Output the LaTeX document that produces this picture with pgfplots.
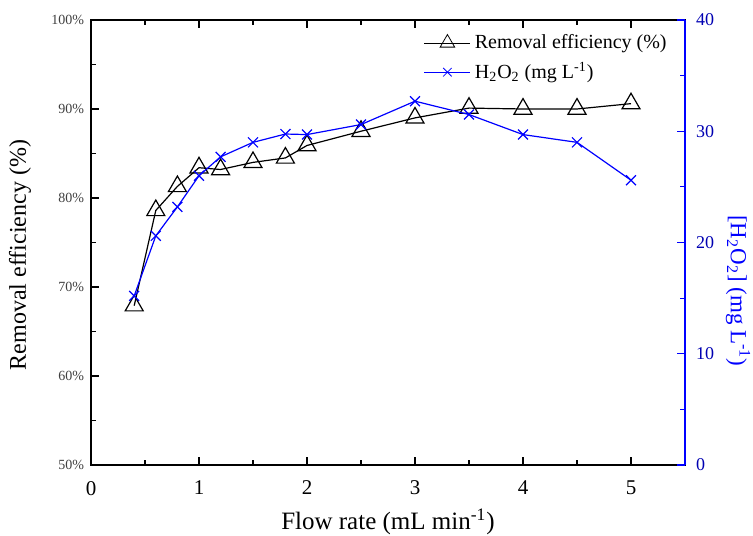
\documentclass[border=0pt]{standalone}
\usepackage{pgfplots}
\pgfplotsset{compat=1.18}
\usepackage{fontspec}
\setmainfont{Liberation Serif}
\definecolor{hblue}{HTML}{0000FF}
\definecolor{tickgray}{HTML}{404040}

\begin{document}
\begin{tikzpicture}
\begin{axis}[
  name=ax,
  scale only axis,
  width=297pt, height=222.5pt,
  xmin=0, xmax=5.5, ymin=50, ymax=100,
  xtick={0,1,...,5}, minor x tick num=1,
  ytick={50,60,...,100}, minor y tick num=1,
  ytick pos=left, xtick pos=both,
  tick align=inside,
  major tick length=4pt, minor tick length=2.5pt,
  yticklabel={\pgfmathprintnumber{\tick}\%},
  yticklabel style={font=\fontsize{7}{8}\selectfont, text=tickgray},
  xticklabel style={font=\fontsize{10.5}{12}\selectfont, yshift=-4.5pt},
  /pgf/number format/assume math mode=true,
  xlabel={Flow rate (mL min\textsuperscript{-1})},
  xlabel style={font=\fontsize{12.5}{14}\selectfont,
    at={(axis description cs:0.5,-0.128)}, anchor=center},
  ylabel={Removal efficiency (\%)},
  ylabel style={font=\fontsize{12}{14}\selectfont,
    at={(axis description cs:-0.1195,0.472)}, anchor=center},
  axis line style={line width=0.8pt},
  every tick/.style={black, line width=0.6pt},
  legend style={at={(axis description cs:1,1)}, anchor=north east,
    xshift=-4pt, yshift=-3pt, draw=none, fill=none,
    font=\fontsize{10}{12}\selectfont, row sep=1.5pt},
  legend cell align=left,
  legend image code/.code={%
    \draw[mark repeat=2, mark phase=2, #1]
      plot coordinates {(0pt,0pt) (11.5pt,0pt) (23pt,0pt)};},
]
\addlegendimage{black, mark=triangle, mark size=4.2pt}
\addlegendentry{Removal efficiency (\%)}
\addlegendimage{hblue, mark=x, mark size=3pt}
\addlegendentry{H\textsubscript{2}O\textsubscript{2} (mg L\textsuperscript{-1})}
\addplot[black, line width=0.6pt, mark=triangle, mark size=5.2pt,
  mark options={solid, line width=0.6pt}] coordinates {
  (0.4, 67.9)
  (0.6, 78.6)
  (0.8, 81.3)
  (1.0, 83.4)
  (1.2, 83.2)
  (1.5, 84.0)
  (1.8, 84.5)
  (2.0, 85.9)
  (2.5, 87.5)
  (3.0, 89.0)
  (3.5, 90.1)
  (4.0, 90.0)
  (4.5, 90.0)
  (5.0, 90.6)
};
\end{axis}
\begin{axis}[
  scale only axis,
  width=297pt, height=222.5pt,
  xmin=0, xmax=5.5, ymin=0, ymax=40,
  axis x line=none,
  axis y line*=right,
  ytick={0,10,...,40}, minor y tick num=1,
  tick align=inside,
  major tick length=4pt, minor tick length=2.5pt,
  axis line style={hblue, line width=0.8pt},
  every tick/.style={hblue, line width=0.6pt},
  yticklabel style={font=\fontsize{9}{11}\selectfont, text=hblue!70!black, xshift=2pt},
  /pgf/number format/assume math mode=true,
  ylabel={[H\textsubscript{2}O\textsubscript{2}] (mg L\textsuperscript{-1})},
  ylabel style={font=\fontsize{11.5}{13}\selectfont, text=hblue,
    at={(axis description cs:1.0892,0.391)}, anchor=center, rotate=180},
]
\addplot[hblue, line width=0.6pt, mark=x, mark size=3.5pt,
  mark options={solid}] coordinates {
  (0.4, 15.2)
  (0.6, 20.6)
  (0.8, 23.2)
  (1.0, 26.0)
  (1.2, 27.7)
  (1.5, 29.0)
  (1.8, 29.75)
  (2.0, 29.7)
  (2.5, 30.6)
  (3.0, 32.7)
  (3.5, 31.5)
  (4.0, 29.7)
  (4.5, 29.0)
  (5.0, 25.6)
};
\end{axis}
\pgfresetboundingbox
\path[use as bounding box] ([xshift=-45.5pt,yshift=-35.5pt]ax.south west)
  rectangle ([xshift=34pt,yshift=10pt]ax.north east);
\end{tikzpicture}
\end{document}
